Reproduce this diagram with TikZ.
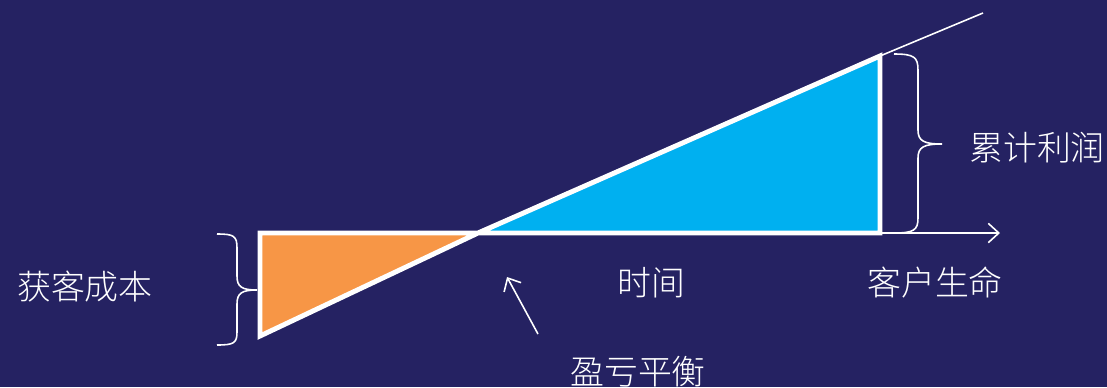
\documentclass[tikz,border=0pt]{standalone}
\usepackage{fontspec}
\setmainfont{Noto Sans CJK SC}
\newfontfamily\cjk{Noto Sans CJK SC Light}
\usetikzlibrary{arrows.meta}
\definecolor{bg}{HTML}{252262}
\definecolor{orng}{HTML}{F79646}
\definecolor{blu}{HTML}{00B0F0}
\tikzset{
  thick edge/.style={white, line width=2.8pt, line join=miter},
  thin line/.style={white, line width=0.9pt},
  label text/.style={text=white, font=\cjk\fontsize{19.3}{21}\selectfont, inner sep=0pt},
}
\begin{document}
\begin{tikzpicture}[x=0.02cm, y=-0.02cm]
\fill[bg] (0,0) rectangle (1107,387);
\useasboundingbox (0,0) rectangle (1107,387);
% key points
\coordinate (A) at (260,233);
\coordinate (B) at (260,336);
\coordinate (P) at (478,233);
\coordinate (T) at (880,56);
\coordinate (R) at (880,233);
\coordinate (E) at (983,13);
\coordinate (X) at (1000,233);
% triangles
\fill[orng] (A) -- (P) -- (B) -- cycle;
\fill[blu] (P) -- (T) -- (R) -- cycle;
\draw[thin line] (T) -- (E);
\draw[thin line, -{Straight Barb[length=6pt, width=11pt, line width=0.9pt]}] (R) -- (X);
\draw[thick edge] (P) -- (A) -- (B) -- (P) -- (T) -- (R) -- cycle;
% left brace
\draw[thin line] (217,234) .. controls (234,234) and (237,236) .. (237,248)
  -- (237,276) .. controls (237,287) and (242,290) .. (257,290)
  .. controls (242,290) and (237,293) .. (237,304)
  -- (237,332) .. controls (237,343) and (234,345) .. (217,345);
% right brace
\draw[thin line] (894,54) .. controls (914,54) and (918,57) .. (918,70)
  -- (918,130) .. controls (918,141) and (924,144) .. (942,144)
  .. controls (924,144) and (918,147) .. (918,158)
  -- (918,218) .. controls (918,230) and (914,233) .. (894,233);
% pointer arrow
\node[label text] (bal) at (638,372) {盈亏平衡};
\coordinate (ptail) at (538,334);
\coordinate (phead) at (507,277);
\draw[thin line, -{Straight Barb[length=6pt, width=11pt, line width=0.9pt]}] (ptail) -- (phead);
% texts
\node[label text] (cost) at (85,287) {获客成本};
\node[label text] (profit) at (1037,148) {累计利润};
\node[label text] (time) at (651,283) {时间};
\node[label text] (life) at (935,283) {客户生命};
\end{tikzpicture}
\end{document}
